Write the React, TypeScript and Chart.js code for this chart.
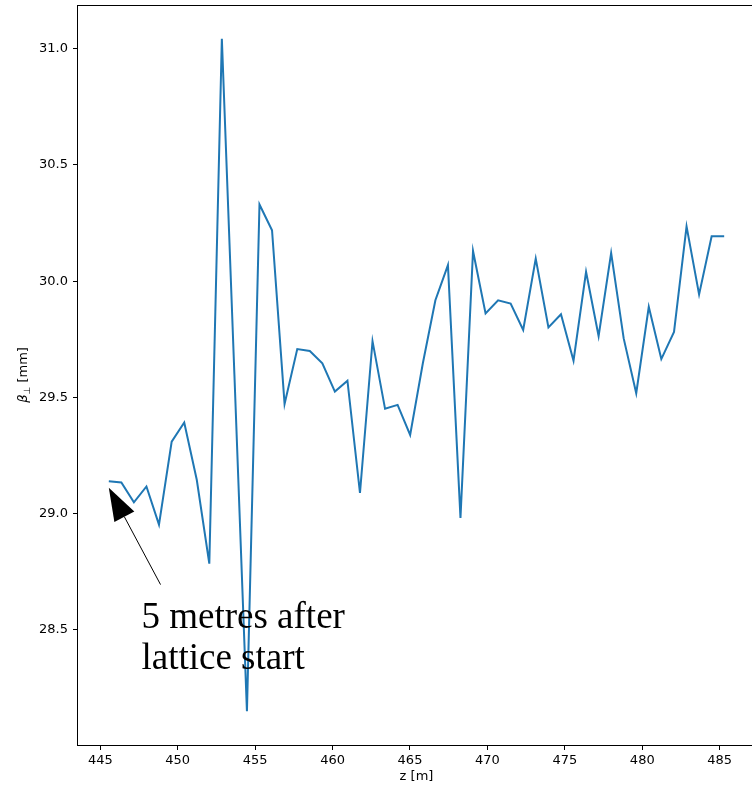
import React, { useEffect, useRef } from "react";
import { Chart, registerables } from "chart.js";

Chart.register(...registerables);

// Longitudinal position z [m]
const Z_M = [
  445.55, 446.36, 447.17, 447.98, 448.79, 449.61, 450.42, 451.23, 452.04, 452.85,
  453.66, 454.47, 455.28, 456.09, 456.9, 457.72, 458.53, 459.34, 460.15, 460.96,
  461.77, 462.58, 463.39, 464.2, 465.01, 465.83, 466.64, 467.45, 468.26, 469.07,
  469.88, 470.69, 471.5, 472.31, 473.12, 473.94, 474.75, 475.56, 476.37, 477.18,
  477.99, 478.8, 479.61, 480.42, 481.23, 482.05, 482.86, 483.67, 484.48, 485.29,
];

// Transverse beta function [mm]
const BETA_MM = [
  29.139, 29.134, 29.049, 29.117, 28.953, 29.31, 29.392, 29.146, 28.785, 31.043,
  29.6, 28.15, 30.33, 30.219, 29.472, 29.708, 29.7, 29.647, 29.525, 29.572,
  29.089, 29.742, 29.451, 29.468, 29.339, 29.647, 29.918, 30.069, 28.982, 30.13,
  29.861, 29.918, 29.904, 29.79, 30.097, 29.801, 29.858, 29.658, 30.04, 29.764,
  30.121, 29.754, 29.518, 29.89, 29.665, 29.782, 30.236, 29.943, 30.193, 30.193,
];

const X_TICKS = [445, 450, 455, 460, 465, 470, 475, 480, 485];
const Y_TICKS = [28.5, 29.0, 29.5, 30.0, 30.5, 31.0];

const X_RANGE = [443.56, 487.28];
const Y_RANGE = [28.005, 31.188];

const ANNOT_TEXT = ["5 metres after", "lattice start"];
const ANNOT_TEXT_XY = [447.66, 28.51];
const ARROW_TIP_XY = [445.55, 29.112];
const ARROW_TAIL_XY = [448.89, 28.695];

const X_LABEL = "z [m]";
const Y_LABEL_PARTS = ["β", "⊥", " [mm]"];

const TICK_FONT = "DejaVu Sans";

const overlayPlugin = {
  id: "overlay",
  afterDatasetsDraw(chart: any) {
    const { ctx, chartArea, scales } = chart;
    const xs = scales.x;
    const ys = scales.y;
    ctx.save();
    // annotation arrow
    const tipX = xs.getPixelForValue(ARROW_TIP_XY[0]);
    const tipY = ys.getPixelForValue(ARROW_TIP_XY[1]);
    const tailX = xs.getPixelForValue(ARROW_TAIL_XY[0]);
    const tailY = ys.getPixelForValue(ARROW_TAIL_XY[1]);
    const dx = tipX - tailX;
    const dy = tipY - tailY;
    const len = Math.hypot(dx, dy);
    const ux = dx / len;
    const uy = dy / len;
    const headLen = 33;
    const headHalf = 11.3;
    const bx = tipX - ux * headLen;
    const by = tipY - uy * headLen;
    ctx.strokeStyle = "#000";
    ctx.lineWidth = 1;
    ctx.beginPath();
    ctx.moveTo(tailX, tailY);
    ctx.lineTo(bx, by);
    ctx.stroke();
    ctx.fillStyle = "#000";
    ctx.beginPath();
    ctx.moveTo(tipX, tipY);
    ctx.lineTo(bx - uy * headHalf, by + ux * headHalf);
    ctx.lineTo(bx + uy * headHalf, by - ux * headHalf);
    ctx.closePath();
    ctx.fill();

    // annotation text
    ctx.font = '37px "Liberation Serif"';
    ctx.textAlign = "left";
    ctx.textBaseline = "alphabetic";
    const tx = xs.getPixelForValue(ANNOT_TEXT_XY[0]);
    const ty = ys.getPixelForValue(ANNOT_TEXT_XY[1]);
    ANNOT_TEXT.forEach((line, i) => ctx.fillText(line, tx, ty + i * 41.7));

    // frame (spines)
    ctx.lineWidth = 1;
    ctx.strokeStyle = "#000";
    ctx.strokeRect(
      Math.round(chartArea.left) - 0.5,
      Math.round(chartArea.top) + 0.5,
      Math.round(chartArea.right - chartArea.left) + 1,
      Math.round(chartArea.bottom - chartArea.top)
    );

    // x axis title
    ctx.font = `13px "${TICK_FONT}"`;
    ctx.textAlign = "center";
    ctx.textBaseline = "middle";
    ctx.fillText(X_LABEL, (chartArea.left + chartArea.right) / 2, 777);

    // y axis title with subscript
    ctx.translate(22, (chartArea.top + chartArea.bottom) / 2);
    ctx.rotate(-Math.PI / 2);
    const fMain = `13px "${TICK_FONT}"`;
    const fIt = `italic 13px "${TICK_FONT}"`;
    const fSub = `9px "${TICK_FONT}"`;
    ctx.font = fIt;
    const w0 = ctx.measureText(Y_LABEL_PARTS[0]).width;
    ctx.font = fSub;
    const w1 = ctx.measureText(Y_LABEL_PARTS[1]).width;
    ctx.font = fMain;
    const w2 = ctx.measureText(Y_LABEL_PARTS[2]).width;
    let x0 = -(w0 + w1 + w2) / 2;
    ctx.textAlign = "left";
    ctx.textBaseline = "alphabetic";
    ctx.font = fIt;
    ctx.fillText(Y_LABEL_PARTS[0], x0, 5);
    x0 += w0;
    ctx.font = fSub;
    ctx.fillText(Y_LABEL_PARTS[1], x0, 8);
    x0 += w1;
    ctx.font = fMain;
    ctx.fillText(Y_LABEL_PARTS[2], x0, 5);
    ctx.restore();
  },
};

const clearPadding = (s: any) => {
  s.paddingTop = 0;
  s.paddingBottom = 0;
  s.paddingLeft = 0;
  s.paddingRight = 0;
};

export default function App() {
  const ref = useRef<HTMLCanvasElement>(null);
  useEffect(() => {
    if (!ref.current) return;
    const points = Z_M.map((z, i) => ({ x: z, y: BETA_MM[i] }));
    const tickFont = { family: TICK_FONT, size: 13 };
    const chart = new Chart(ref.current, {
      type: "line",
      data: {
        datasets: [
          {
            data: points,
            borderColor: "#1f77b4",
            borderWidth: 2,
            pointRadius: 0,
            tension: 0,
            fill: false,
          },
        ],
      },
      options: {
        responsive: false,
        animation: false,
        devicePixelRatio: 1,
        layout: { padding: { top: 5, right: 5, left: 0, bottom: 0 } },
        plugins: { legend: { display: false }, tooltip: { enabled: false } },
        scales: {
          x: {
            type: "linear",
            min: X_RANGE[0],
            max: X_RANGE[1],
            afterBuildTicks: (s: any) => {
              s.ticks = X_TICKS.map((v) => ({ value: v }));
            },
            afterFit: (s: any) => {
              s.height = 45;
              clearPadding(s);
            },
            grid: {
              display: true,
              drawOnChartArea: false,
              drawTicks: true,
              tickLength: 5,
              color: "#000",
              tickColor: "#000",
            },
            border: { display: false },
            ticks: {
              font: tickFont,
              color: "#000",
              padding: 3,
              maxRotation: 0,
              autoSkip: false,
              callback: (v: any) => String(v),
            },
          },
          y: {
            type: "linear",
            min: Y_RANGE[0],
            max: Y_RANGE[1],
            afterBuildTicks: (s: any) => {
              s.ticks = Y_TICKS.map((v) => ({ value: v }));
            },
            afterFit: (s: any) => {
              s.width = 78;
              clearPadding(s);
            },
            grid: {
              display: true,
              drawOnChartArea: false,
              drawTicks: true,
              tickLength: 5,
              color: "#000",
              tickColor: "#000",
            },
            border: { display: false },
            ticks: {
              font: tickFont,
              color: "#000",
              padding: 5,
              autoSkip: false,
              callback: (v: any) => Number(v).toFixed(1),
            },
          },
        },
      },
      plugins: [overlayPlugin],
    } as any);
    return () => chart.destroy();
  }, []);
  return (
    <div
      style={{
        position: "fixed",
        left: 0,
        top: 0,
        width: 752,
        height: 790,
        overflow: "hidden",
        background: "#fff",
      }}
    >
      <canvas ref={ref} width={760} height={790} style={{ display: "block" }} />
    </div>
  );
}
